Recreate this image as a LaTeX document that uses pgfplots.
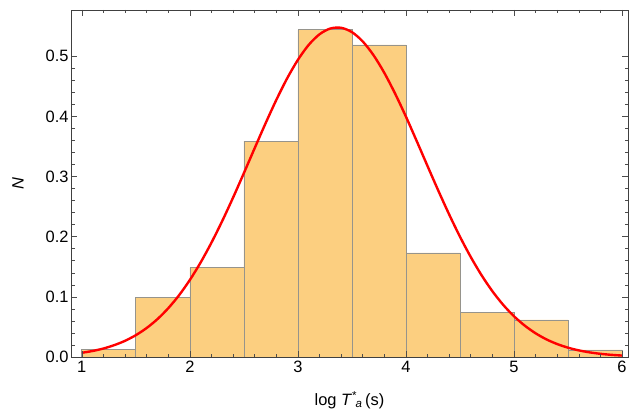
\documentclass[border=0pt]{standalone}
\usepackage{pgfplots}
\pgfplotsset{compat=1.18}
\usepackage{fontspec}
\setmainfont{Liberation Sans}
\definecolor{barfill}{RGB}{252,207,128}
\definecolor{baredge}{RGB}{150,148,140}
\begin{document}
\begin{tikzpicture}
\useasboundingbox (-71bp,-60bp) rectangle (558bp,357bp);
\begin{axis}[
  scale only axis, width=557bp, height=347bp,
  xmin=0.9, xmax=6.055, ymin=0, ymax=0.577,
  xtick={1,2,3,4,5,6}, minor x tick num=4,
  ytick={0,0.1,0.2,0.3,0.4,0.5}, minor y tick num=4,
  yticklabels={0.0,0.1,0.2,0.3,0.4,0.5},
  tick align=inside,
  major tick length=6bp, minor tick length=3.5bp,
  tick style={black!70, line width=0.6pt},
  axis line style={black!75, line width=0.8pt},
  /pgf/number format/assume math mode=true,
  tick label style={font=\fontsize{16.5}{18}\selectfont},
  xticklabel style={yshift=-1bp},
  yticklabel style={xshift=1bp},
  xlabel={log \textit{T}\textsuperscript{*}\kern-0.1em\textsubscript{\textit{a}}\,(s)},
  ylabel={\textit{N}},
  label style={font=\fontsize{16.5}{18}\selectfont},
  xlabel style={at={(axis description cs:0.5,-0.124)}, anchor=center},
  ylabel style={at={(axis description cs:-0.095,0.5)}, anchor=center},
  axis on top,
]
\addplot[ybar interval, fill=barfill, draw=baredge, line width=0.7pt] coordinates {
(1.0,0.0128) (1.5,0.0987) (2.0,0.1486) (2.5,0.3590) (3.0,0.5440)
(3.5,0.5190) (4.0,0.1730) (4.5,0.0743) (5.0,0.0616) (5.5,0.0117) (6.0,0.0117)
};
\addplot[red, line width=2.4pt, smooth, no markers] coordinates {
(1.0,0.0070) (1.1,0.0100) (1.2,0.0141) (1.3,0.0197) (1.4,0.0269)
(1.5,0.0363) (1.6,0.0482) (1.7,0.0630) (1.8,0.0811) (1.9,0.1027)
(2.0,0.1281) (2.1,0.1573) (2.2,0.1902) (2.3,0.2263) (2.4,0.2651)
(2.5,0.3058) (2.6,0.3473) (2.7,0.3883) (2.8,0.4274) (2.9,0.4632)
(3.0,0.4941) (3.1,0.5190) (3.2,0.5366) (3.3,0.5462) (3.4,0.5474)
(3.5,0.5402) (3.6,0.5247) (3.7,0.5018) (3.8,0.4724) (3.9,0.4378)
(4.0,0.3996) (4.1,0.3589) (4.2,0.3174) (4.3,0.2764) (4.4,0.2370)
(4.5,0.2000) (4.6,0.1662) (4.7,0.1359) (4.8,0.1094) (4.9,0.0867)
(5.0,0.0677) (5.1,0.0521) (5.2,0.0394) (5.3,0.0293) (5.4,0.0215)
(5.5,0.0155) (5.6,0.0110) (5.7,0.0077) (5.8,0.0053) (5.9,0.0036)
(6.0,0.0024)
};
\end{axis}
\end{tikzpicture}
\end{document}
